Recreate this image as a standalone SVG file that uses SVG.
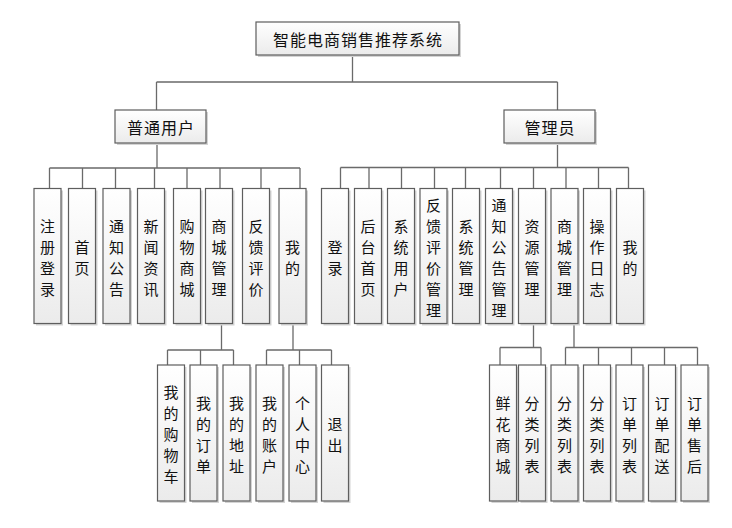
<svg xmlns="http://www.w3.org/2000/svg" width="732" height="528" viewBox="0 0 732 528">
<defs>
<linearGradient id="g" x1="0" y1="0" x2="0" y2="1">
<stop offset="0" stop-color="#ffffff"/>
<stop offset="1" stop-color="#ebebeb"/>
</linearGradient>
<style>
.b{fill:url(#g);stroke:#5e5e5e;stroke-width:1.2}
.sh{fill:#d4d4d4}
.t{font-family:"Noto Sans CJK SC","Liberation Sans",sans-serif;font-size:16px;fill:#111;text-anchor:middle;dominant-baseline:central}
.v{font-size:15px}
.h{letter-spacing:1px}
.c{fill:none;stroke:#6a6a6a;stroke-width:1.3}
</style>
</defs>
<rect width="732" height="528" fill="#ffffff"/>
<g id="connectors">
<path class="c" d="M352.5 55V82M156.5 82H557.5M156.5 82V110M557.5 82V110"/>
<path class="c" d="M157 143V168M49.5 168H300M49.5 168V188.5M82.5 168V188.5M115.5 168V188.5M154.5 168V188.5M187 168V188.5M220 168V188.5M261 168V188.5M300 168V188.5"/>
<path class="c" d="M557.5 143V167.5M340.5 167.5H628.5M340.5 167.5V188.5M369 167.5V188.5M401.5 167.5V188.5M434.5 167.5V188.5M465.5 167.5V188.5M500.5 167.5V188.5M533.5 167.5V188.5M566 167.5V188.5M598.5 167.5V188.5M628.5 167.5V188.5"/>
<path class="c" d="M221.5 323.5V350M167.5 350H233.5M167.5 350V365M200.5 350V365M233.5 350V365"/>
<path class="c" d="M293 323.5V350M266.5 350H331.5M266.5 350V365M299.5 350V365M331.5 350V365"/>
<path class="c" d="M533.5 323.5V347.5M500 347.5H541M500 347.5V365M541 347.5V365"/>
<path class="c" d="M574 323.5V347.5M565.5 347.5H697.5M565.5 347.5V365M598.5 347.5V365M631.5 347.5V365M664.5 347.5V365M697.5 347.5V365"/>
</g>
<g id="root"><rect class="sh" x="258" y="24" width="203" height="33"/><rect class="b" x="256" y="22" width="203" height="33"/><text class="t h" x="358" y="38.5">智能电商销售推荐系统</text></g>
<g id="user"><rect class="sh" x="117" y="112" width="91" height="33"/><rect class="b" x="115" y="110" width="91" height="33"/><text class="t h" x="161" y="126.5">普通用户</text></g>
<g id="admin"><rect class="sh" x="506" y="112" width="91" height="33"/><rect class="b" x="504" y="110" width="91" height="33"/><text class="t h" x="550" y="126.5">管理员</text></g>

<g id="u1"><rect class="sh" x="36" y="190.5" width="27" height="135"/><rect class="b" x="34" y="188.5" width="27" height="135"/><text class="t v"><tspan x="47.5" y="224.5">注</tspan><tspan x="47.5" y="245.5">册</tspan><tspan x="47.5" y="266.5">登</tspan><tspan x="47.5" y="287.5">录</tspan></text></g>
<g id="u2"><rect class="sh" x="70.5" y="190.5" width="27" height="135"/><rect class="b" x="68.5" y="188.5" width="27" height="135"/><text class="t v"><tspan x="82" y="245.5">首</tspan><tspan x="82" y="266.5">页</tspan></text></g>
<g id="u3"><rect class="sh" x="105" y="190.5" width="27" height="135"/><rect class="b" x="103" y="188.5" width="27" height="135"/><text class="t v"><tspan x="116.5" y="224.5">通</tspan><tspan x="116.5" y="245.5">知</tspan><tspan x="116.5" y="266.5">公</tspan><tspan x="116.5" y="287.5">告</tspan></text></g>
<g id="u4"><rect class="sh" x="139.5" y="190.5" width="27" height="135"/><rect class="b" x="137.5" y="188.5" width="27" height="135"/><text class="t v"><tspan x="151" y="224.5">新</tspan><tspan x="151" y="245.5">闻</tspan><tspan x="151" y="266.5">资</tspan><tspan x="151" y="287.5">讯</tspan></text></g>
<g id="u5"><rect class="sh" x="175.5" y="190.5" width="27" height="135"/><rect class="b" x="173.5" y="188.5" width="27" height="135"/><text class="t v"><tspan x="187" y="224.5">购</tspan><tspan x="187" y="245.5">物</tspan><tspan x="187" y="266.5">商</tspan><tspan x="187" y="287.5">城</tspan></text></g>
<g id="u6"><rect class="sh" x="207.5" y="190.5" width="27" height="135"/><rect class="b" x="205.5" y="188.5" width="27" height="135"/><text class="t v"><tspan x="219" y="224.5">商</tspan><tspan x="219" y="245.5">城</tspan><tspan x="219" y="266.5">管</tspan><tspan x="219" y="287.5">理</tspan></text></g>
<g id="u7"><rect class="sh" x="244.5" y="190.5" width="27" height="135"/><rect class="b" x="242.5" y="188.5" width="27" height="135"/><text class="t v"><tspan x="256" y="224.5">反</tspan><tspan x="256" y="245.5">馈</tspan><tspan x="256" y="266.5">评</tspan><tspan x="256" y="287.5">价</tspan></text></g>
<g id="u8"><rect class="sh" x="281" y="190.5" width="27" height="135"/><rect class="b" x="279" y="188.5" width="27" height="135"/><text class="t v"><tspan x="292.5" y="245.5">我</tspan><tspan x="292.5" y="266.5">的</tspan></text></g>

<g id="a1"><rect class="sh" x="323.5" y="190.5" width="27" height="135"/><rect class="b" x="321.5" y="188.5" width="27" height="135"/><text class="t v"><tspan x="335" y="245.5">登</tspan><tspan x="335" y="266.5">录</tspan></text></g>
<g id="a2"><rect class="sh" x="356.5" y="190.5" width="27" height="135"/><rect class="b" x="354.5" y="188.5" width="27" height="135"/><text class="t v"><tspan x="368" y="224.5">后</tspan><tspan x="368" y="245.5">台</tspan><tspan x="368" y="266.5">首</tspan><tspan x="368" y="287.5">页</tspan></text></g>
<g id="a3"><rect class="sh" x="389.5" y="190.5" width="27" height="135"/><rect class="b" x="387.5" y="188.5" width="27" height="135"/><text class="t v"><tspan x="401" y="224.5">系</tspan><tspan x="401" y="245.5">统</tspan><tspan x="401" y="266.5">用</tspan><tspan x="401" y="287.5">户</tspan></text></g>
<g id="a4"><rect class="sh" x="422" y="190.5" width="27" height="135"/><rect class="b" x="420" y="188.5" width="27" height="135"/><text class="t v"><tspan x="433.5" y="203.5">反</tspan><tspan x="433.5" y="224.5">馈</tspan><tspan x="433.5" y="245.5">评</tspan><tspan x="433.5" y="266.5">价</tspan><tspan x="433.5" y="287.5">管</tspan><tspan x="433.5" y="308.5">理</tspan></text></g>
<g id="a5"><rect class="sh" x="454.5" y="190.5" width="27" height="135"/><rect class="b" x="452.5" y="188.5" width="27" height="135"/><text class="t v"><tspan x="466" y="224.5">系</tspan><tspan x="466" y="245.5">统</tspan><tspan x="466" y="266.5">管</tspan><tspan x="466" y="287.5">理</tspan></text></g>
<g id="a6"><rect class="sh" x="487.5" y="190.5" width="27" height="135"/><rect class="b" x="485.5" y="188.5" width="27" height="135"/><text class="t v"><tspan x="499" y="203.5">通</tspan><tspan x="499" y="224.5">知</tspan><tspan x="499" y="245.5">公</tspan><tspan x="499" y="266.5">告</tspan><tspan x="499" y="287.5">管</tspan><tspan x="499" y="308.5">理</tspan></text></g>
<g id="a7"><rect class="sh" x="520.5" y="190.5" width="27" height="135"/><rect class="b" x="518.5" y="188.5" width="27" height="135"/><text class="t v"><tspan x="532" y="224.5">资</tspan><tspan x="532" y="245.5">源</tspan><tspan x="532" y="266.5">管</tspan><tspan x="532" y="287.5">理</tspan></text></g>
<g id="a8"><rect class="sh" x="553" y="190.5" width="27" height="135"/><rect class="b" x="551" y="188.5" width="27" height="135"/><text class="t v"><tspan x="564.5" y="224.5">商</tspan><tspan x="564.5" y="245.5">城</tspan><tspan x="564.5" y="266.5">管</tspan><tspan x="564.5" y="287.5">理</tspan></text></g>
<g id="a9"><rect class="sh" x="585.5" y="190.5" width="27" height="135"/><rect class="b" x="583.5" y="188.5" width="27" height="135"/><text class="t v"><tspan x="597" y="224.5">操</tspan><tspan x="597" y="245.5">作</tspan><tspan x="597" y="266.5">日</tspan><tspan x="597" y="287.5">志</tspan></text></g>
<g id="a10"><rect class="sh" x="618.5" y="190.5" width="27" height="135"/><rect class="b" x="616.5" y="188.5" width="27" height="135"/><text class="t v"><tspan x="630" y="245.5">我</tspan><tspan x="630" y="266.5">的</tspan></text></g>

<g id="b1"><rect class="sh" x="159.5" y="367" width="27" height="136"/><rect class="b" x="157.5" y="365" width="27" height="136"/><text class="t v"><tspan x="171" y="391">我</tspan><tspan x="171" y="412">的</tspan><tspan x="171" y="433">购</tspan><tspan x="171" y="454">物</tspan><tspan x="171" y="475">车</tspan></text></g>
<g id="b2"><rect class="sh" x="192" y="367" width="27" height="136"/><rect class="b" x="190" y="365" width="27" height="136"/><text class="t v"><tspan x="203.5" y="401.5">我</tspan><tspan x="203.5" y="422.5">的</tspan><tspan x="203.5" y="443.5">订</tspan><tspan x="203.5" y="464.5">单</tspan></text></g>
<g id="b3"><rect class="sh" x="225" y="367" width="27" height="136"/><rect class="b" x="223" y="365" width="27" height="136"/><text class="t v"><tspan x="236.5" y="401.5">我</tspan><tspan x="236.5" y="422.5">的</tspan><tspan x="236.5" y="443.5">地</tspan><tspan x="236.5" y="464.5">址</tspan></text></g>
<g id="b4"><rect class="sh" x="258" y="367" width="27" height="136"/><rect class="b" x="256" y="365" width="27" height="136"/><text class="t v"><tspan x="269.5" y="401.5">我</tspan><tspan x="269.5" y="422.5">的</tspan><tspan x="269.5" y="443.5">账</tspan><tspan x="269.5" y="464.5">户</tspan></text></g>
<g id="b5"><rect class="sh" x="291" y="367" width="27" height="136"/><rect class="b" x="289" y="365" width="27" height="136"/><text class="t v"><tspan x="302.5" y="401.5">个</tspan><tspan x="302.5" y="422.5">人</tspan><tspan x="302.5" y="443.5">中</tspan><tspan x="302.5" y="464.5">心</tspan></text></g>
<g id="b6"><rect class="sh" x="323.5" y="367" width="27" height="136"/><rect class="b" x="321.5" y="365" width="27" height="136"/><text class="t v"><tspan x="335" y="422.5">退</tspan><tspan x="335" y="443.5">出</tspan></text></g>

<g id="c1"><rect class="sh" x="491.5" y="367" width="27" height="136"/><rect class="b" x="489.5" y="365" width="27" height="136"/><text class="t v"><tspan x="503" y="401.5">鲜</tspan><tspan x="503" y="422.5">花</tspan><tspan x="503" y="443.5">商</tspan><tspan x="503" y="464.5">城</tspan></text></g>
<g id="c2"><rect class="sh" x="520.5" y="367" width="27" height="136"/><rect class="b" x="518.5" y="365" width="27" height="136"/><text class="t v"><tspan x="532" y="401.5">分</tspan><tspan x="532" y="422.5">类</tspan><tspan x="532" y="443.5">列</tspan><tspan x="532" y="464.5">表</tspan></text></g>
<g id="c3"><rect class="sh" x="553" y="367" width="27" height="136"/><rect class="b" x="551" y="365" width="27" height="136"/><text class="t v"><tspan x="564.5" y="401.5">分</tspan><tspan x="564.5" y="422.5">类</tspan><tspan x="564.5" y="443.5">列</tspan><tspan x="564.5" y="464.5">表</tspan></text></g>
<g id="c4"><rect class="sh" x="585.5" y="367" width="27" height="136"/><rect class="b" x="583.5" y="365" width="27" height="136"/><text class="t v"><tspan x="597" y="401.5">分</tspan><tspan x="597" y="422.5">类</tspan><tspan x="597" y="443.5">列</tspan><tspan x="597" y="464.5">表</tspan></text></g>
<g id="c5"><rect class="sh" x="618" y="367" width="27" height="136"/><rect class="b" x="616" y="365" width="27" height="136"/><text class="t v"><tspan x="629.5" y="401.5">订</tspan><tspan x="629.5" y="422.5">单</tspan><tspan x="629.5" y="443.5">列</tspan><tspan x="629.5" y="464.5">表</tspan></text></g>
<g id="c6"><rect class="sh" x="650.5" y="367" width="27" height="136"/><rect class="b" x="648.5" y="365" width="27" height="136"/><text class="t v"><tspan x="662" y="401.5">订</tspan><tspan x="662" y="422.5">单</tspan><tspan x="662" y="443.5">配</tspan><tspan x="662" y="464.5">送</tspan></text></g>
<g id="c7"><rect class="sh" x="683" y="367" width="27" height="136"/><rect class="b" x="681" y="365" width="27" height="136"/><text class="t v"><tspan x="694.5" y="401.5">订</tspan><tspan x="694.5" y="422.5">单</tspan><tspan x="694.5" y="443.5">售</tspan><tspan x="694.5" y="464.5">后</tspan></text></g>
</svg>
